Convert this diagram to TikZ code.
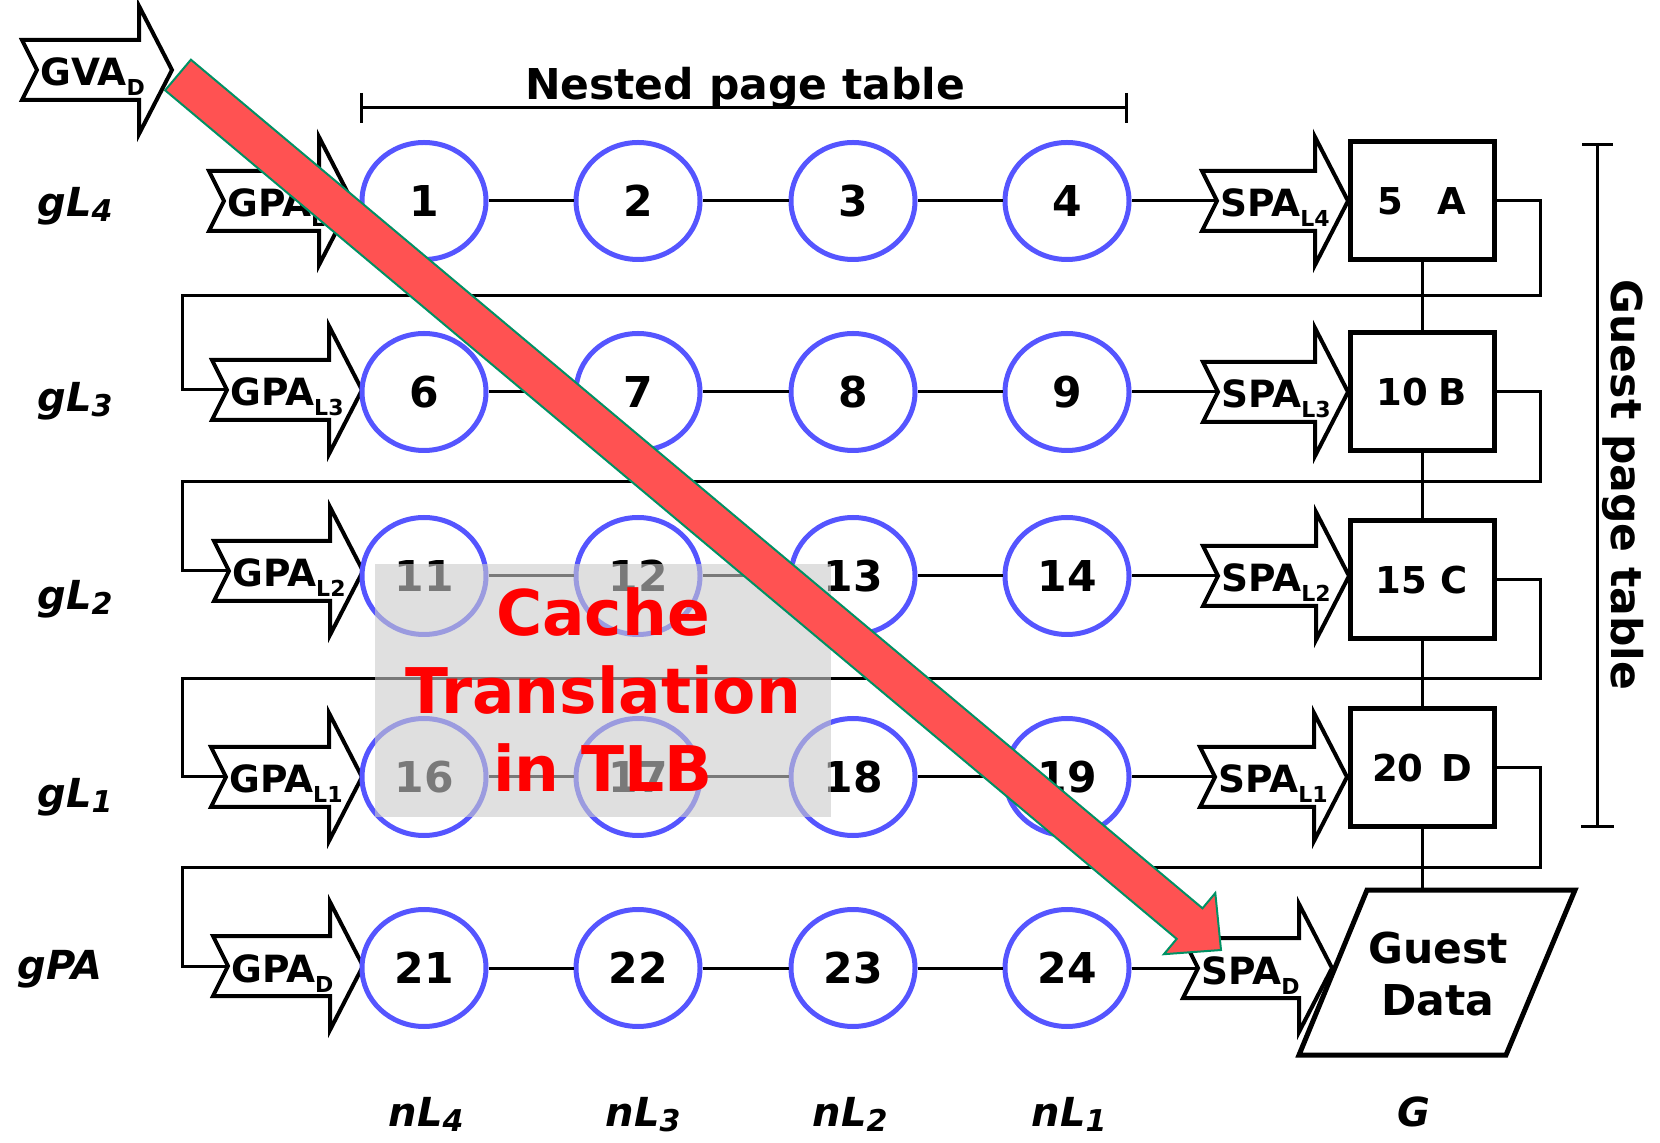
\documentclass[tikz,border=0pt]{standalone}
\usepackage{fontspec}
\setmainfont{DejaVu Sans}
\usetikzlibrary{shapes.geometric}

\definecolor{ringblue}{RGB}{85,85,255}
\definecolor{walkred}{RGB}{255,82,82}
\definecolor{walkgreen}{RGB}{0,145,100}
\definecolor{tlbgray}{RGB}{203,203,203}
\definecolor{tlbred}{RGB}{255,0,0}

% address label with a lowered index, e.g. GPA_{L4}
\newcommand\sublbl[2]{#1\raisebox{-5pt}{\fontsize{11pt}{13pt}\selectfont #2}}
% italic level label, e.g. gL_4
\newcommand\lvl[2]{#1\raisebox{-2.5pt}{\fontsize{15pt}{18pt}\selectfont #2}}

% notched block arrow: name, left x, centre y, tip x, label
\newcommand\bigarrow[5]{%
  \draw[blockarrow] (#2,#3-30) -- (#4-33,#3-30) -- (#4-33,#3-64) -- (#4,#3)
    -- (#4-33,#3+64) -- (#4-33,#3+30) -- (#2,#3+30) -- (#2+15,#3) -- cycle;
  \coordinate (#1-in) at (#2+15,#3);
  \coordinate (#1-tip) at (#4,#3);
  \node[arrlbl] (#1) at (#2+18,#3+16) {#5};
}

\begin{document}
\begin{tikzpicture}[x=0.5pt,y=-0.5pt,
  conn/.style={line width=1.5pt},
  ring/.style={ellipse, draw=ringblue, line width=2.5pt, fill=white,
    minimum width=62pt, minimum height=58.5pt, inner sep=0pt,
    font=\fontsize{21.25pt}{25pt}\selectfont\bfseries},
  tbox/.style={rectangle, draw, line width=2.5pt, fill=white,
    minimum width=72pt, minimum height=59pt, inner sep=0pt,
    font=\fontsize{18.5pt}{22pt}\selectfont\bfseries},
  blockarrow/.style={draw, fill=white, line width=2pt},
  arrlbl/.style={inner sep=0pt, anchor=base west,
    font=\fontsize{18.75pt}{22pt}\selectfont\bfseries},
  lvllbl/.style={inner sep=0pt, font=\fontsize{20pt}{24pt}\selectfont\bfseries\itshape},
  title/.style={inner sep=0pt, font=\fontsize{21.25pt}{26pt}\selectfont\bfseries},
  walk/.style={fill=walkred, draw=walkgreen, line width=1pt, line join=miter},
  tlbtext/.style={inner sep=0pt, align=center, text=tlbred,
    font=\fontsize{31.5pt}{39pt}\selectfont\bfseries}
]
\useasboundingbox (0,0) rectangle (1660,1143);

% ---- guest virtual address input
\bigarrow{gva}{22}{70}{172}{\sublbl{GVA}{D}}

% ---- nested page table bracket
\coordinate (npl) at (361,108);
\coordinate (npr) at (1126,108);
\draw[conn] (npl) -- (npr);
\draw[conn] (361,93) -- (361,123);
\draw[conn] (1126,93) -- (1126,123);
\node[title, anchor=base] (npt) at (745,100) {Nested page table};

% ---- guest page table bracket
\coordinate (gpt-top) at (1597,145);
\coordinate (gpt-bot) at (1597,827);
\draw[conn] (gpt-top) -- (gpt-bot);
\draw[conn] (1582,145) -- (1613,145);
\draw[conn] (1581,827) -- (1614,827);
\node[title, rotate=-90] (gpt) at (1623,485) {Guest page table};

% ---- guest physical address arrows (left column)
\bigarrow{gpa1}{209}{201}{352}{\sublbl{GPA}{L4}}
\bigarrow{gpa2}{212}{390}{362}{\sublbl{GPA}{L3}}
\bigarrow{gpa3}{214}{571}{363}{\sublbl{GPA}{L2}}
\bigarrow{gpa4}{211}{777}{362}{\sublbl{GPA}{L1}}
\bigarrow{gpa5}{213}{966}{363}{\sublbl{GPA}{D}}

% ---- nested walk steps
\foreach \r/\y in {0/201,1/392,2/576,3/777,4/968}
  \foreach \c/\x in {1/424,2/638,3/853,4/1067}{
    \pgfmathtruncatemacro\n{\r*5+\c}
    \node[ring] (c\n) at (\x,\y) {\n};
  }
\foreach \r in {0,...,4}
  \foreach \c in {1,2,3}{
    \pgfmathtruncatemacro\a{\r*5+\c}
    \pgfmathtruncatemacro\b{\a+1}
    \draw[conn] (c\a) -- (c\b);
  }

% ---- system physical address arrows (right column)
\bigarrow{spa1}{1202}{201}{1348}{\sublbl{SPA}{L4}}
\bigarrow{spa2}{1203}{392}{1348}{\sublbl{SPA}{L3}}
\bigarrow{spa3}{1203}{576}{1349}{\sublbl{SPA}{L2}}
\bigarrow{spa4}{1200}{777}{1347}{\sublbl{SPA}{L1}}
\bigarrow{spa5}{1183}{968}{1332}{\sublbl{SPA}{D}}
\draw[conn] (c4) -- (spa1-in);
\draw[conn] (c9) -- (spa2-in);
\draw[conn] (c14) -- (spa3-in);
\draw[conn] (c19) -- (spa4-in);
\draw[conn] (c24) -- (spa5-in);

% ---- guest page table entries
\node[tbox] (b1) at (1422,201) {\makebox[30pt][l]{5}A};
\node[tbox] (b2) at (1422,392) {\makebox[31pt][l]{10}B};
\node[tbox] (b3) at (1422,580) {\makebox[32.5pt][l]{15}C};
\node[tbox] (b4) at (1422,768) {\makebox[34.5pt][l]{20}D};

% ---- guest data block
\coordinate (gd-top) at (1422,890);
\draw[line width=2.5pt, fill=white] (1367,890) -- (1575,890) -- (1506,1055) -- (1299,1055) -- cycle;
\node[title, align=center, font=\fontsize{21.25pt}{26pt}\selectfont\bfseries] (gd) at (1438,974) {Guest\\Data};

\draw[conn] (b1) -- (b2);
\draw[conn] (b2) -- (b3);
\draw[conn] (b3) -- (b4);
\draw[conn] (b4) -- (gd-top);

% ---- feedback from each entry to the next level's GPA
\coordinate (r1) at (1540,296); \coordinate (l1) at (182,296);
\coordinate (r2) at (1540,482); \coordinate (l2) at (182,482);
\coordinate (r3) at (1540,679); \coordinate (l3) at (182,679);
\coordinate (r4) at (1540,867); \coordinate (l4) at (182,867);
\draw[conn] (b1.east) -| (r1) -- (l1) |- (gpa2-in);
\draw[conn] (b2.east) -| (r2) -- (l2) |- (gpa3-in);
\draw[conn] (b3.east) -| (r3) -- (l3) |- (gpa4-in);
\draw[conn] (b4.east) -| (r4) -- (l4) |- (gpa5-in);

% ---- level labels
\node[lvllbl, anchor=base west] (gl4) at (37,217) {\lvl{gL}{4}};
\node[lvllbl, anchor=base west] (gl3) at (37,412) {\lvl{gL}{3}};
\node[lvllbl, anchor=base west] (gl2) at (37,610) {\lvl{gL}{2}};
\node[lvllbl, anchor=base west] (gl1) at (37,807) {\lvl{gL}{1}};
\node[lvllbl, anchor=base west] (gpa) at (17,979) {gPA};
\node[lvllbl, anchor=base] (nl4) at (426,1126) {\lvl{nL}{4}};
\node[lvllbl, anchor=base] (nl3) at (643,1126) {\lvl{nL}{3}};
\node[lvllbl, anchor=base] (nl2) at (850,1126) {\lvl{nL}{2}};
\node[lvllbl, anchor=base] (nl1) at (1069,1126) {\lvl{nL}{1}};
\node[lvllbl, anchor=base] (gcol) at (1414,1126) {G};

% ---- TLB shortcut overlay
\fill[tlbgray, opacity=0.6] (375,564) rectangle (831,817);
\node[tlbtext] (tlb) at (603,690) {Cache\\Translation\\in TLB};

% ---- direct translation arrow
\draw[walk] (165.1,90.3) -- (1176.7,938.9) -- (1163.9,954.2) -- (1221,950)
  -- (1215.3,893) -- (1202.5,908.3) -- (190.9,59.7) -- cycle;
\end{tikzpicture}
\end{document}
